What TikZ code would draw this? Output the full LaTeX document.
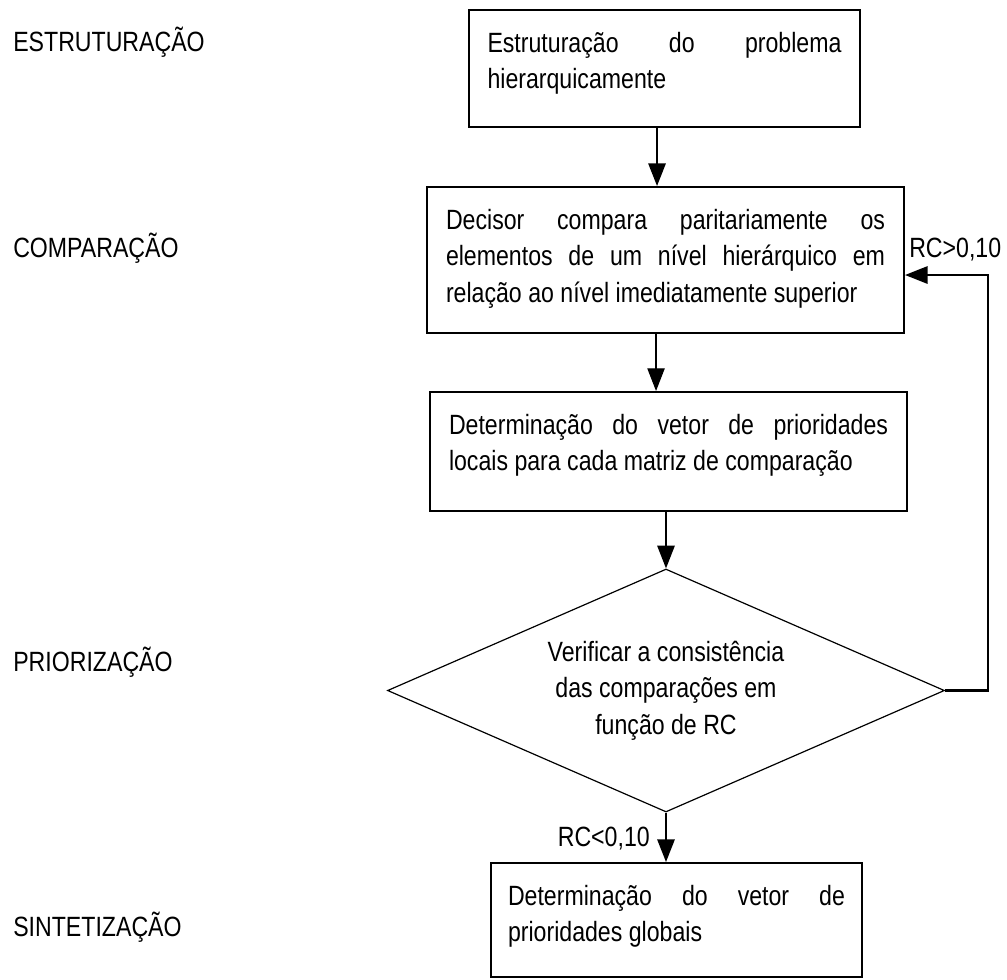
\documentclass[tikz,border=0pt]{standalone}
\usepackage{fontspec}
\setmainfont{Liberation Sans}[FakeStretch=0.83]
\usetikzlibrary{arrows.meta, shapes.geometric}

% justified text block of fixed height, first baseline 42px below the top
\newcommand{\boxtext}[3]{\parbox[c][#2][t]{#1}{\hyphenpenalty=10000\tolerance=9999\rule{0pt}{31.5pt}#3}}

\begin{document}
\begin{tikzpicture}[x=0.75pt, y=-0.75pt,
    font=\fontsize{20.9pt}{27.4pt}\selectfont,
    stepbox/.style={draw, line width=1.5pt, inner xsep=#1, inner ysep=0pt},
    stepbox/.default=14.25pt,
    decision/.style={draw, diamond, line width=0.9pt, aspect=2.29,
      minimum width=557*0.75pt, minimum height=243*0.75pt, inner sep=0pt, align=center},
    phase/.style={anchor=base west, inner sep=0pt},
    flow/.style={-{Triangle[length=17pt, width=13pt]}, line width=1.2pt}]

      % Fix the picture size
      \useasboundingbox (0,0) rectangle (1007,979);

      % Phase names on the left
      \node[phase] (estr) at (13,51) {ESTRUTURAÇÃO};
      \node[phase] (comp) at (13,257) {COMPARAÇÃO};
      \node[phase] (prio) at (13,671) {PRIORIZAÇÃO};
      \node[phase] (sint) at (13,936) {SINTETIZAÇÃO};

      % The steps
      \node[stepbox=13.9pt] (b1) at (664.5,68.5) {\boxtext{265.5pt}{87.75pt}{Estruturação do problema\linebreak hierarquicamente}};
      \node[stepbox] (b2) at (665.5,260) {\boxtext{329.25pt}{109.5pt}{Decisor compara paritariamente os\linebreak elementos de um nível hierárquico em\linebreak relação ao nível imediatamente superior}};
      \node[stepbox] (b3) at (668.5,451.5) {\boxtext{329.25pt}{89.25pt}{Determinação do vetor de prioridades\linebreak locais para cada matriz de comparação}};
      \node[decision] (d) at (666,690.5) {Verificar a consistência\\das comparações em\\função de RC};
      \node[stepbox=12.75pt] (b4) at (676.5,920) {\boxtext{252.75pt}{85.5pt}{Determinação do vetor de\linebreak prioridades globais}};

      % Arrows between the steps
      \draw[flow, line width=1.5pt] ([xshift=-5.6pt]b1.south) -- ([xshift=-5.6pt]b1.south |- b2.north);
      \draw[flow, line width=0.9pt] ([xshift=-7.1pt]b2.south) -- ([xshift=-7.1pt]b2.south |- b3.north);
      \draw[flow] (b3.south -| d.north) -- (d.north);
      \draw[flow, line width=1.5pt] (d.south) -- (d.south |- b4.north);

      % Back to the comparison step
      \draw[flow, line width=1.6pt] (d.east) -- ++(43,0) |- ([yshift=-11.25pt]b2.east);

      % Conditions
      \node[phase] (rcup) at (909,257) {RC>0,10};
      \node[anchor=base east, inner sep=0pt] (rcdown) at (650,846) {RC<0,10};
    \end{tikzpicture}
\end{document}
